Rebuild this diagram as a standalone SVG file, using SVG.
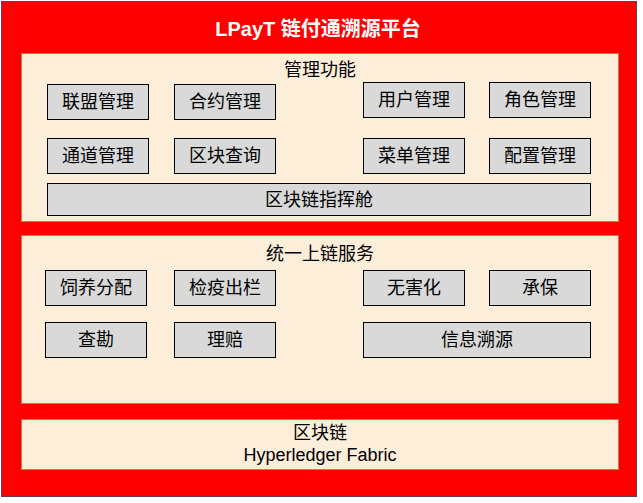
<svg xmlns="http://www.w3.org/2000/svg" width="643" height="503" viewBox="0 0 643 503">
<style>
text{font-family:"Liberation Sans","Noto Sans CJK SC",sans-serif;font-size:18px;fill:#000;text-anchor:middle;dominant-baseline:central}
.p{fill:#FDEEDA;stroke:#C0803A;stroke-width:1}
.b{fill:#D9D9D9;stroke:#000;stroke-width:1}
</style>
<rect width="643" height="503" fill="#fff"/>
<rect x="1.5" y="1.5" width="635" height="495" fill="#FF0000" stroke="#6A3A5A" stroke-width="1"/>
<text x="318" y="29" style="fill:#fff;font-weight:bold;font-size:20px">LPayT 链付通溯源平台</text>
<g id="panel-mgmt">
<rect class="p" x="21.5" y="53.5" width="597" height="168"/>
<text x="320" y="70">管理功能</text>
</g>
<g id="n1"><rect class="b" x="47.5" y="84.5" width="101" height="35"/><text x="98" y="102">联盟管理</text></g>
<g id="n2"><rect class="b" x="174.5" y="84.5" width="101" height="35"/><text x="225" y="102">合约管理</text></g>
<g id="n3"><rect class="b" x="363.5" y="82.5" width="101" height="35"/><text x="414" y="100">用户管理</text></g>
<g id="n4"><rect class="b" x="489.5" y="82.5" width="101" height="35"/><text x="540" y="100">角色管理</text></g>
<g id="n5"><rect class="b" x="47.5" y="138.5" width="101" height="35"/><text x="98" y="156">通道管理</text></g>
<g id="n6"><rect class="b" x="174.5" y="138.5" width="101" height="35"/><text x="225" y="156">区块查询</text></g>
<g id="n7"><rect class="b" x="363.5" y="138.5" width="101" height="35"/><text x="414" y="156">菜单管理</text></g>
<g id="n8"><rect class="b" x="489.5" y="138.5" width="101" height="35"/><text x="540" y="156">配置管理</text></g>
<g id="n9"><rect class="b" x="47.5" y="183.5" width="543" height="32"/><text x="319" y="200">区块链指挥舱</text></g>
<g id="panel-svc">
<rect class="p" x="21.5" y="235.5" width="597" height="168"/>
<text x="320" y="254">统一上链服务</text>
</g>
<g id="s1"><rect class="b" x="45.5" y="270.5" width="101" height="35"/><text x="96" y="288">饲养分配</text></g>
<g id="s2"><rect class="b" x="174.5" y="270.5" width="101" height="35"/><text x="225" y="288">检疫出栏</text></g>
<g id="s3"><rect class="b" x="363.5" y="270.5" width="101" height="35"/><text x="414" y="288">无害化</text></g>
<g id="s4"><rect class="b" x="489.5" y="270.5" width="101" height="35"/><text x="540" y="288">承保</text></g>
<g id="s5"><rect class="b" x="45.5" y="322.5" width="101" height="35"/><text x="96" y="340">查勘</text></g>
<g id="s6"><rect class="b" x="174.5" y="322.5" width="101" height="35"/><text x="225" y="340">理赔</text></g>
<g id="s7"><rect class="b" x="363.5" y="322.5" width="227" height="35"/><text x="477" y="340">信息溯源</text></g>
<g id="panel-chain">
<rect class="p" x="21.5" y="419.5" width="597" height="50"/>
<text x="320" y="433">区块链</text>
<text x="320" y="455">Hyperledger Fabric</text>
</g>
<g id="connectors"/>
</svg>
